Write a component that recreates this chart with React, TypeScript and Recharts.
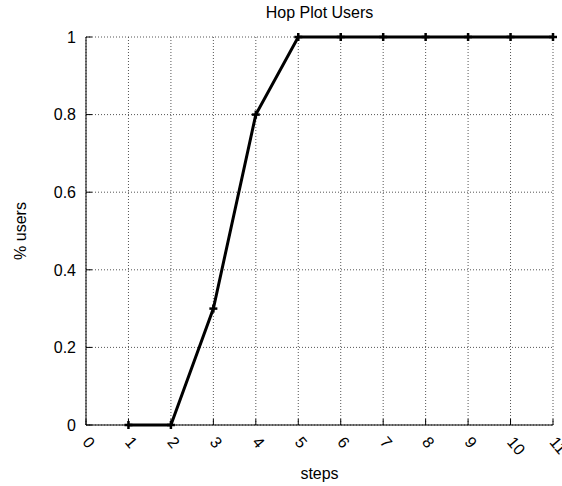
import { LineChart, Line, XAxis, YAxis, CartesianGrid } from 'recharts';

const steps = [1, 2, 3, 4, 5, 6, 7, 8, 9, 10, 11];
const users = [0, 0, 0.3, 0.8, 1, 1, 1, 1, 1, 1, 1];
const xTicks = [0, 1, 2, 3, 4, 5, 6, 7, 8, 9, 10, 11];
const yTicks = [0, 0.2, 0.4, 0.6, 0.8, 1];

const data = steps.map((s, i) => ({ step: s, users: users[i] }));

const FONT = '"Liberation Sans", Arial, Helvetica, sans-serif';
const TICK = 6;

function BottomTick({ x, y, payload }: any) {
  return (
    <g>
      <line x1={x} y1={y} x2={x} y2={y - TICK} stroke="#000" strokeWidth={1} />
      <text
        x={x}
        y={y + 14}
        transform={`rotate(50 ${x} ${y + 14})`}
        textAnchor="start"
        fontSize={16}
        fontFamily={FONT}
        fill="#000"
        dy="0.35em"
      >
        {payload.value}
      </text>
    </g>
  );
}

function TopTick({ x, y }: any) {
  return <line x1={x} y1={y} x2={x} y2={y + TICK} stroke="#000" strokeWidth={1} />;
}

function LeftTick({ x, y, payload }: any) {
  return (
    <g>
      <line x1={x} y1={y} x2={x + TICK} y2={y} stroke="#000" strokeWidth={1} />
      <text
        x={x - 10}
        y={y}
        textAnchor="end"
        dy="0.36em"
        fontSize={16}
        fontFamily={FONT}
        fill="#000"
      >
        {payload.value}
      </text>
    </g>
  );
}

function RightTick({ x, y }: any) {
  return <line x1={x} y1={y} x2={x - TICK} y2={y} stroke="#000" strokeWidth={1} />;
}

function PlusDot({ cx, cy }: any) {
  if (cx == null || cy == null) return null;
  return (
    <g>
      <line x1={cx - 4} y1={cy} x2={cx + 4} y2={cy} stroke="#000" strokeWidth={2.5} />
      <line x1={cx} y1={cy - 4} x2={cx} y2={cy + 4} stroke="#000" strokeWidth={2.5} />
    </g>
  );
}

export default function App() {
  return (
    <div style={{ position: 'absolute', left: 0, top: 0, width: 562, height: 486, background: '#fff' }}>
      {/* title */}
      <div
        style={{
          position: 'absolute',
          left: 86,
          width: 467,
          top: 4,
          textAlign: 'center',
          fontFamily: FONT,
          fontSize: 16,
          lineHeight: '18px',
          color: '#000',
        }}
      >
        Hop Plot Users
      </div>
      <LineChart
        width={562}
        height={486}
        data={data}
        margin={{ top: 37, right: 9, left: 0, bottom: 0 }}
        style={{ fontFamily: FONT }}
      >
        <CartesianGrid stroke="#555" strokeDasharray="1 2" />
        <XAxis
          dataKey="step"
          type="number"
          domain={[0, 11]}
          ticks={xTicks}
          height={61}
          tickSize={0}
          tickMargin={0}
          tickLine={false}
          tick={<BottomTick />}
          axisLine={{ stroke: '#000', strokeWidth: 1 }}
          interval={0}
          label={{ value: 'steps', position: 'center', dy: 18, fontSize: 16, fill: '#000', fontFamily: FONT }}
        />
        <XAxis
          xAxisId="top"
          orientation="top"
          dataKey="step"
          type="number"
          domain={[0, 11]}
          ticks={xTicks}
          height={0}
          tickSize={0}
          tickMargin={0}
          tickLine={false}
          tick={<TopTick />}
          axisLine={{ stroke: '#000', strokeWidth: 1 }}
          interval={0}
        />
        <YAxis
          type="number"
          domain={[0, 1]}
          ticks={yTicks}
          width={86}
          tickSize={0}
          tickMargin={0}
          tickLine={false}
          tick={<LeftTick />}
          axisLine={{ stroke: '#000', strokeWidth: 1 }}
          interval={0}
          label={{ value: '% users', angle: -90, position: 'center', dx: -23, fontSize: 16, fill: '#000', fontFamily: FONT }}
        />
        <YAxis
          yAxisId="right"
          orientation="right"
          dataKey="users"
          type="number"
          domain={[0, 1]}
          ticks={yTicks}
          width={0}
          tickSize={0}
          tickMargin={0}
          tickLine={false}
          tick={<RightTick />}
          axisLine={{ stroke: '#000', strokeWidth: 1 }}
          interval={0}
        />
        <Line
          type="linear"
          dataKey="users"
          stroke="#000"
          strokeWidth={3}
          dot={<PlusDot />}
          activeDot={false}
          isAnimationActive={false}
        />
      </LineChart>
    </div>
  );
}
